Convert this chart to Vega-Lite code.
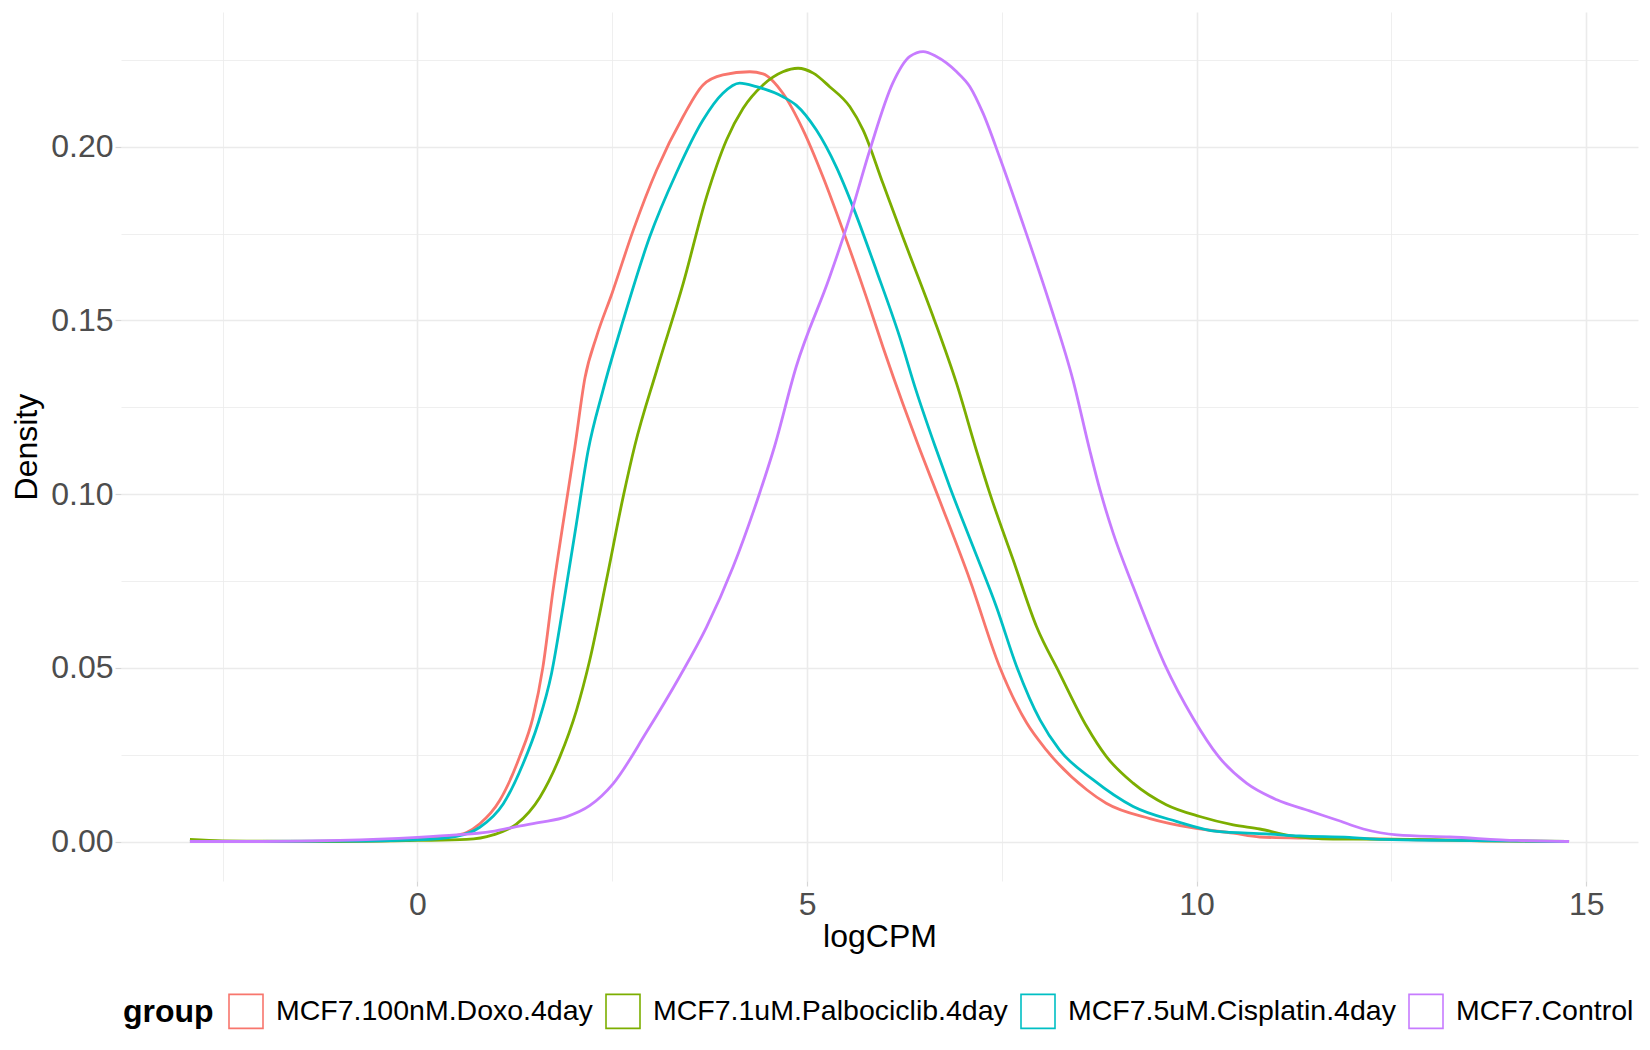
{
  "$schema": "https://vega.github.io/schema/vega-lite/v6.json",
  "description": "Density of logCPM per treatment group (MCF7).",
  "width": 1517,
  "height": 869,
  "autosize": {"type": "none"},
  "padding": {"left": 121, "top": 12, "right": 12, "bottom": 169},
  "background": "white",
  "config": {
    "font": "Liberation Sans",
    "view": {"stroke": null}
  },
  "data": {
    "values": [
      {"group": "MCF7.100nM.Doxo.4day", "x": -2.92, "y": 0},
      {"group": "MCF7.100nM.Doxo.4day", "x": -2, "y": 0},
      {"group": "MCF7.100nM.Doxo.4day", "x": -1, "y": 0.0001},
      {"group": "MCF7.100nM.Doxo.4day", "x": -0.5, "y": 0.0002},
      {"group": "MCF7.100nM.Doxo.4day", "x": 0, "y": 0.0006},
      {"group": "MCF7.100nM.Doxo.4day", "x": 0.4, "y": 0.0014},
      {"group": "MCF7.100nM.Doxo.4day", "x": 0.63, "y": 0.0026},
      {"group": "MCF7.100nM.Doxo.4day", "x": 0.8, "y": 0.0051},
      {"group": "MCF7.100nM.Doxo.4day", "x": 1.055, "y": 0.0118},
      {"group": "MCF7.100nM.Doxo.4day", "x": 1.31, "y": 0.0243},
      {"group": "MCF7.100nM.Doxo.4day", "x": 1.483, "y": 0.0358},
      {"group": "MCF7.100nM.Doxo.4day", "x": 1.61, "y": 0.0502},
      {"group": "MCF7.100nM.Doxo.4day", "x": 1.74, "y": 0.0723},
      {"group": "MCF7.100nM.Doxo.4day", "x": 1.868, "y": 0.0915},
      {"group": "MCF7.100nM.Doxo.4day", "x": 2.02, "y": 0.1135},
      {"group": "MCF7.100nM.Doxo.4day", "x": 2.15, "y": 0.1335},
      {"group": "MCF7.100nM.Doxo.4day", "x": 2.3, "y": 0.1455},
      {"group": "MCF7.100nM.Doxo.4day", "x": 2.5, "y": 0.158},
      {"group": "MCF7.100nM.Doxo.4day", "x": 2.77, "y": 0.176},
      {"group": "MCF7.100nM.Doxo.4day", "x": 3.07, "y": 0.1933},
      {"group": "MCF7.100nM.Doxo.4day", "x": 3.41, "y": 0.2087},
      {"group": "MCF7.100nM.Doxo.4day", "x": 3.665, "y": 0.2178},
      {"group": "MCF7.100nM.Doxo.4day", "x": 3.92, "y": 0.2207},
      {"group": "MCF7.100nM.Doxo.4day", "x": 4.265, "y": 0.2216},
      {"group": "MCF7.100nM.Doxo.4day", "x": 4.435, "y": 0.221},
      {"group": "MCF7.100nM.Doxo.4day", "x": 4.69, "y": 0.2154},
      {"group": "MCF7.100nM.Doxo.4day", "x": 4.95, "y": 0.2048},
      {"group": "MCF7.100nM.Doxo.4day", "x": 5.205, "y": 0.1913},
      {"group": "MCF7.100nM.Doxo.4day", "x": 5.46, "y": 0.176},
      {"group": "MCF7.100nM.Doxo.4day", "x": 5.76, "y": 0.1568},
      {"group": "MCF7.100nM.Doxo.4day", "x": 5.975, "y": 0.1423},
      {"group": "MCF7.100nM.Doxo.4day", "x": 6.23, "y": 0.126},
      {"group": "MCF7.100nM.Doxo.4day", "x": 6.42, "y": 0.1145},
      {"group": "MCF7.100nM.Doxo.4day", "x": 6.7, "y": 0.0983},
      {"group": "MCF7.100nM.Doxo.4day", "x": 7.09, "y": 0.0753},
      {"group": "MCF7.100nM.Doxo.4day", "x": 7.47, "y": 0.0504},
      {"group": "MCF7.100nM.Doxo.4day", "x": 7.82, "y": 0.0341},
      {"group": "MCF7.100nM.Doxo.4day", "x": 8.07, "y": 0.0264},
      {"group": "MCF7.100nM.Doxo.4day", "x": 8.59, "y": 0.0149},
      {"group": "MCF7.100nM.Doxo.4day", "x": 8.84, "y": 0.011},
      {"group": "MCF7.100nM.Doxo.4day", "x": 9.4, "y": 0.0066},
      {"group": "MCF7.100nM.Doxo.4day", "x": 9.955, "y": 0.0039},
      {"group": "MCF7.100nM.Doxo.4day", "x": 10.47, "y": 0.0024},
      {"group": "MCF7.100nM.Doxo.4day", "x": 10.81, "y": 0.0013},
      {"group": "MCF7.100nM.Doxo.4day", "x": 11.32, "y": 0.001},
      {"group": "MCF7.100nM.Doxo.4day", "x": 11.96, "y": 0.0009},
      {"group": "MCF7.100nM.Doxo.4day", "x": 12.82, "y": 0.0005},
      {"group": "MCF7.100nM.Doxo.4day", "x": 13.68, "y": 0.0002},
      {"group": "MCF7.100nM.Doxo.4day", "x": 14.78, "y": 0},

      {"group": "MCF7.1uM.Palbociclib.4day", "x": -2.92, "y": 0.0006},
      {"group": "MCF7.1uM.Palbociclib.4day", "x": -2.5, "y": 0.0002},
      {"group": "MCF7.1uM.Palbociclib.4day", "x": -2, "y": 0.0001},
      {"group": "MCF7.1uM.Palbociclib.4day", "x": -1, "y": 0},
      {"group": "MCF7.1uM.Palbociclib.4day", "x": 0, "y": 0.0003},
      {"group": "MCF7.1uM.Palbociclib.4day", "x": 0.63, "y": 0.0006},
      {"group": "MCF7.1uM.Palbociclib.4day", "x": 0.97, "y": 0.0019},
      {"group": "MCF7.1uM.Palbociclib.4day", "x": 1.27, "y": 0.005},
      {"group": "MCF7.1uM.Palbociclib.4day", "x": 1.57, "y": 0.0127},
      {"group": "MCF7.1uM.Palbociclib.4day", "x": 1.826, "y": 0.0243},
      {"group": "MCF7.1uM.Palbociclib.4day", "x": 2.04, "y": 0.0377},
      {"group": "MCF7.1uM.Palbociclib.4day", "x": 2.21, "y": 0.0521},
      {"group": "MCF7.1uM.Palbociclib.4day", "x": 2.425, "y": 0.0752},
      {"group": "MCF7.1uM.Palbociclib.4day", "x": 2.64, "y": 0.0992},
      {"group": "MCF7.1uM.Palbociclib.4day", "x": 2.79, "y": 0.114},
      {"group": "MCF7.1uM.Palbociclib.4day", "x": 3.07, "y": 0.1356},
      {"group": "MCF7.1uM.Palbociclib.4day", "x": 3.41, "y": 0.1606},
      {"group": "MCF7.1uM.Palbociclib.4day", "x": 3.71, "y": 0.1856},
      {"group": "MCF7.1uM.Palbociclib.4day", "x": 3.965, "y": 0.2019},
      {"group": "MCF7.1uM.Palbociclib.4day", "x": 4.18, "y": 0.2111},
      {"group": "MCF7.1uM.Palbociclib.4day", "x": 4.435, "y": 0.2178},
      {"group": "MCF7.1uM.Palbociclib.4day", "x": 4.69, "y": 0.2216},
      {"group": "MCF7.1uM.Palbociclib.4day", "x": 4.885, "y": 0.2226},
      {"group": "MCF7.1uM.Palbociclib.4day", "x": 5.08, "y": 0.2212},
      {"group": "MCF7.1uM.Palbociclib.4day", "x": 5.29, "y": 0.2173},
      {"group": "MCF7.1uM.Palbociclib.4day", "x": 5.55, "y": 0.2115},
      {"group": "MCF7.1uM.Palbociclib.4day", "x": 5.72, "y": 0.2048},
      {"group": "MCF7.1uM.Palbociclib.4day", "x": 5.975, "y": 0.1894},
      {"group": "MCF7.1uM.Palbociclib.4day", "x": 6.23, "y": 0.174},
      {"group": "MCF7.1uM.Palbociclib.4day", "x": 6.62, "y": 0.151},
      {"group": "MCF7.1uM.Palbociclib.4day", "x": 6.92, "y": 0.1318},
      {"group": "MCF7.1uM.Palbociclib.4day", "x": 7.175, "y": 0.1125},
      {"group": "MCF7.1uM.Palbociclib.4day", "x": 7.345, "y": 0.1003},
      {"group": "MCF7.1uM.Palbociclib.4day", "x": 7.645, "y": 0.0811},
      {"group": "MCF7.1uM.Palbociclib.4day", "x": 7.945, "y": 0.0619},
      {"group": "MCF7.1uM.Palbociclib.4day", "x": 8.24, "y": 0.0485},
      {"group": "MCF7.1uM.Palbociclib.4day", "x": 8.59, "y": 0.0331},
      {"group": "MCF7.1uM.Palbociclib.4day", "x": 8.84, "y": 0.0245},
      {"group": "MCF7.1uM.Palbociclib.4day", "x": 9.185, "y": 0.0168},
      {"group": "MCF7.1uM.Palbociclib.4day", "x": 9.61, "y": 0.0106},
      {"group": "MCF7.1uM.Palbociclib.4day", "x": 10.04, "y": 0.0072},
      {"group": "MCF7.1uM.Palbociclib.4day", "x": 10.47, "y": 0.0048},
      {"group": "MCF7.1uM.Palbociclib.4day", "x": 10.81, "y": 0.0036},
      {"group": "MCF7.1uM.Palbociclib.4day", "x": 11.2, "y": 0.0017},
      {"group": "MCF7.1uM.Palbociclib.4day", "x": 11.75, "y": 0.0007},
      {"group": "MCF7.1uM.Palbociclib.4day", "x": 12.82, "y": 0.0006},
      {"group": "MCF7.1uM.Palbociclib.4day", "x": 13.68, "y": 0.0002},
      {"group": "MCF7.1uM.Palbociclib.4day", "x": 14.78, "y": 0},

      {"group": "MCF7.5uM.Cisplatin.4day", "x": -2.92, "y": 0},
      {"group": "MCF7.5uM.Cisplatin.4day", "x": -1, "y": 0.0001},
      {"group": "MCF7.5uM.Cisplatin.4day", "x": 0, "y": 0.0005},
      {"group": "MCF7.5uM.Cisplatin.4day", "x": 0.5, "y": 0.0015},
      {"group": "MCF7.5uM.Cisplatin.4day", "x": 0.8, "y": 0.0041},
      {"group": "MCF7.5uM.Cisplatin.4day", "x": 1.1, "y": 0.0108},
      {"group": "MCF7.5uM.Cisplatin.4day", "x": 1.354, "y": 0.0223},
      {"group": "MCF7.5uM.Cisplatin.4day", "x": 1.547, "y": 0.0339},
      {"group": "MCF7.5uM.Cisplatin.4day", "x": 1.72, "y": 0.0483},
      {"group": "MCF7.5uM.Cisplatin.4day", "x": 1.868, "y": 0.0675},
      {"group": "MCF7.5uM.Cisplatin.4day", "x": 2.04, "y": 0.0915},
      {"group": "MCF7.5uM.Cisplatin.4day", "x": 2.19, "y": 0.1125},
      {"group": "MCF7.5uM.Cisplatin.4day", "x": 2.38, "y": 0.1298},
      {"group": "MCF7.5uM.Cisplatin.4day", "x": 2.64, "y": 0.15},
      {"group": "MCF7.5uM.Cisplatin.4day", "x": 2.98, "y": 0.174},
      {"group": "MCF7.5uM.Cisplatin.4day", "x": 3.32, "y": 0.1923},
      {"group": "MCF7.5uM.Cisplatin.4day", "x": 3.665, "y": 0.2077},
      {"group": "MCF7.5uM.Cisplatin.4day", "x": 3.92, "y": 0.2154},
      {"group": "MCF7.5uM.Cisplatin.4day", "x": 4.136, "y": 0.2183},
      {"group": "MCF7.5uM.Cisplatin.4day", "x": 4.35, "y": 0.2173},
      {"group": "MCF7.5uM.Cisplatin.4day", "x": 4.69, "y": 0.2144},
      {"group": "MCF7.5uM.Cisplatin.4day", "x": 4.86, "y": 0.212},
      {"group": "MCF7.5uM.Cisplatin.4day", "x": 5.12, "y": 0.2048},
      {"group": "MCF7.5uM.Cisplatin.4day", "x": 5.375, "y": 0.1942},
      {"group": "MCF7.5uM.Cisplatin.4day", "x": 5.59, "y": 0.1827},
      {"group": "MCF7.5uM.Cisplatin.4day", "x": 5.89, "y": 0.1644},
      {"group": "MCF7.5uM.Cisplatin.4day", "x": 6.19, "y": 0.1452},
      {"group": "MCF7.5uM.Cisplatin.4day", "x": 6.4, "y": 0.1298},
      {"group": "MCF7.5uM.Cisplatin.4day", "x": 6.64, "y": 0.114},
      {"group": "MCF7.5uM.Cisplatin.4day", "x": 6.83, "y": 0.1022},
      {"group": "MCF7.5uM.Cisplatin.4day", "x": 7.13, "y": 0.0849},
      {"group": "MCF7.5uM.Cisplatin.4day", "x": 7.43, "y": 0.0676},
      {"group": "MCF7.5uM.Cisplatin.4day", "x": 7.69, "y": 0.0504},
      {"group": "MCF7.5uM.Cisplatin.4day", "x": 7.99, "y": 0.035},
      {"group": "MCF7.5uM.Cisplatin.4day", "x": 8.24, "y": 0.0264},
      {"group": "MCF7.5uM.Cisplatin.4day", "x": 8.67, "y": 0.0178},
      {"group": "MCF7.5uM.Cisplatin.4day", "x": 9.185, "y": 0.0101},
      {"group": "MCF7.5uM.Cisplatin.4day", "x": 9.74, "y": 0.0058},
      {"group": "MCF7.5uM.Cisplatin.4day", "x": 10.26, "y": 0.0029},
      {"group": "MCF7.5uM.Cisplatin.4day", "x": 10.9, "y": 0.0022},
      {"group": "MCF7.5uM.Cisplatin.4day", "x": 11.32, "y": 0.0016},
      {"group": "MCF7.5uM.Cisplatin.4day", "x": 11.96, "y": 0.0012},
      {"group": "MCF7.5uM.Cisplatin.4day", "x": 12.39, "y": 0.0006},
      {"group": "MCF7.5uM.Cisplatin.4day", "x": 13.25, "y": 0.0003},
      {"group": "MCF7.5uM.Cisplatin.4day", "x": 14.78, "y": 0},

      {"group": "MCF7.Control", "x": -2.92, "y": 0},
      {"group": "MCF7.Control", "x": -2, "y": 0},
      {"group": "MCF7.Control", "x": -1, "y": 0.0003},
      {"group": "MCF7.Control", "x": 0, "y": 0.0012},
      {"group": "MCF7.Control", "x": 0.5, "y": 0.0019},
      {"group": "MCF7.Control", "x": 0.9, "y": 0.0027},
      {"group": "MCF7.Control", "x": 1.23, "y": 0.0041},
      {"group": "MCF7.Control", "x": 1.57, "y": 0.0055},
      {"group": "MCF7.Control", "x": 1.91, "y": 0.0071},
      {"group": "MCF7.Control", "x": 2.21, "y": 0.0103},
      {"group": "MCF7.Control", "x": 2.51, "y": 0.0166},
      {"group": "MCF7.Control", "x": 2.94, "y": 0.0315},
      {"group": "MCF7.Control", "x": 3.366, "y": 0.0475},
      {"group": "MCF7.Control", "x": 3.71, "y": 0.0617},
      {"group": "MCF7.Control", "x": 4.05, "y": 0.079},
      {"group": "MCF7.Control", "x": 4.39, "y": 0.1002},
      {"group": "MCF7.Control", "x": 4.58, "y": 0.1135},
      {"group": "MCF7.Control", "x": 4.86, "y": 0.1366},
      {"group": "MCF7.Control", "x": 5.29, "y": 0.1625},
      {"group": "MCF7.Control", "x": 5.55, "y": 0.1798},
      {"group": "MCF7.Control", "x": 5.805, "y": 0.199},
      {"group": "MCF7.Control", "x": 6.1, "y": 0.2183},
      {"group": "MCF7.Control", "x": 6.32, "y": 0.226},
      {"group": "MCF7.Control", "x": 6.49, "y": 0.2274},
      {"group": "MCF7.Control", "x": 6.66, "y": 0.226},
      {"group": "MCF7.Control", "x": 6.92, "y": 0.2216},
      {"group": "MCF7.Control", "x": 7.09, "y": 0.2173},
      {"group": "MCF7.Control", "x": 7.26, "y": 0.2096},
      {"group": "MCF7.Control", "x": 7.47, "y": 0.1971},
      {"group": "MCF7.Control", "x": 7.77, "y": 0.1779},
      {"group": "MCF7.Control", "x": 8.115, "y": 0.1548},
      {"group": "MCF7.Control", "x": 8.415, "y": 0.1327},
      {"group": "MCF7.Control", "x": 8.63, "y": 0.1125},
      {"group": "MCF7.Control", "x": 8.76, "y": 0.1012},
      {"group": "MCF7.Control", "x": 8.93, "y": 0.0887},
      {"group": "MCF7.Control", "x": 9.185, "y": 0.0734},
      {"group": "MCF7.Control", "x": 9.59, "y": 0.051},
      {"group": "MCF7.Control", "x": 9.955, "y": 0.0355},
      {"group": "MCF7.Control", "x": 10.28, "y": 0.0245},
      {"group": "MCF7.Control", "x": 10.64, "y": 0.0168},
      {"group": "MCF7.Control", "x": 11.03, "y": 0.012},
      {"group": "MCF7.Control", "x": 11.45, "y": 0.0088},
      {"group": "MCF7.Control", "x": 11.8, "y": 0.0062},
      {"group": "MCF7.Control", "x": 12.14, "y": 0.0036},
      {"group": "MCF7.Control", "x": 12.57, "y": 0.0019},
      {"group": "MCF7.Control", "x": 13.25, "y": 0.0013},
      {"group": "MCF7.Control", "x": 14.11, "y": 0.0003},
      {"group": "MCF7.Control", "x": 14.78, "y": 0}
    ]
  },
  "mark": {"type": "line", "interpolate": "monotone", "strokeWidth": 2.8},
  "encoding": {
    "x": {
      "field": "x",
      "type": "quantitative",
      "scale": {"domain": [-3.805, 15.665], "nice": false, "zero": false},
      "axis": {
        "title": "logCPM",
        "values": [-2.5, 0, 2.5, 5, 7.5, 10, 12.5, 15],
        "labelExpr": "datum.value % 5 === 0 ? datum.label : ''",
        "domain": false,
        "labelFontSize": 32,
        "labelColor": "#4D4D4D",
        "labelPadding": 3,
        "labelFlush": false,
        "labelOverlap": false,
        "tickSize": 5,
        "tickColor": "#D6D6D6",
        "tickWidth": 1.2,
        "tickOpacity": {"condition": {"test": "datum.value % 5 !== 0", "value": 0}, "value": 1},
        "gridColor": "#EBEBEB",
        "gridWidth": {"condition": {"test": "datum.value % 5 !== 0", "value": 0.8}, "value": 1.6},
        "titleFontSize": 32,
        "titleFontWeight": "normal",
        "titleColor": "black",
        "titleBaseline": "alphabetic",
        "titleY": 65
      }
    },
    "y": {
      "field": "y",
      "type": "quantitative",
      "scale": {"domain": [-0.01137, 0.2388], "nice": false, "zero": false},
      "axis": {
        "title": "Density",
        "values": [0, 0.025, 0.05, 0.075, 0.1, 0.125, 0.15, 0.175, 0.2, 0.225],
        "format": ".2f",
        "labelExpr": "abs(round(datum.value * 1000) % 50) === 0 ? datum.label : ''",
        "domain": false,
        "labelFontSize": 32,
        "labelColor": "#4D4D4D",
        "labelPadding": 2,
        "labelFlush": false,
        "labelOverlap": false,
        "tickSize": 6,
        "tickColor": "#D6D6D6",
        "tickWidth": 1.2,
        "tickOpacity": {"condition": {"test": "abs(round(datum.value * 1000) % 50) !== 0", "value": 0}, "value": 1},
        "gridColor": "#EBEBEB",
        "gridWidth": {"condition": {"test": "abs(round(datum.value * 1000) % 50) !== 0", "value": 0.8}, "value": 1.6},
        "titleFontSize": 32,
        "titleFontWeight": "normal",
        "titleColor": "black",
        "titleBaseline": "middle",
        "titleAngle": -90,
        "titleX": -95,
        "titleY": 434.6
      }
    },
    "color": {
      "field": "group",
      "type": "nominal",
      "scale": {
        "domain": ["MCF7.100nM.Doxo.4day", "MCF7.1uM.Palbociclib.4day", "MCF7.5uM.Cisplatin.4day", "MCF7.Control"],
        "range": ["#F8766D", "#7CAE00", "#00BFC4", "#C77CFF"]
      },
      "legend": {
        "title": "group",
        "orient": "none",
        "direction": "horizontal",
        "legendX": 2,
        "legendY": 981,
        "padding": 0,
        "titleOrient": "left",
        "titleFontSize": 32,
        "titleFontWeight": "bold",
        "titleColor": "black",
        "titleBaseline": "middle",
        "titlePadding": 14,
        "labelFontSize": 28.5,
        "labelColor": "black",
        "labelLimit": 0,
        "labelOffset": 12,
        "columnPadding": 9,
        "symbolType": "square",
        "symbolSize": 1156,
        "symbolStrokeWidth": 1.6,
        "symbolFillColor": "white"
      }
    }
  }
}
